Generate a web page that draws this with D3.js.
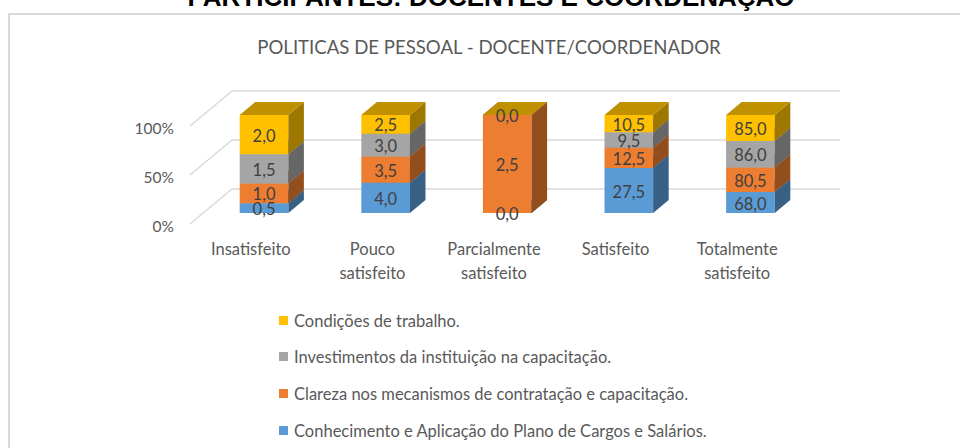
<!DOCTYPE html>
<html>
<head>
<meta charset="utf-8">
<script src="https://cdn.jsdelivr.net/npm/d3@7"></script>
<style>
  body { margin: 0; background: #fff; }
  svg { display: block; }
</style>
</head>
<body>
<svg id="chart" width="960" height="448"></svg>
<script>

// data
var categories = ["Insatisfeito", "Pouco satisfeito", "Parcialmente satisfeito", "Satisfeito", "Totalmente satisfeito"];
var categoryLines = [["Insatisfeito"], ["Pouco", "satisfeito"], ["Parcialmente", "satisfeito"], ["Satisfeito"], ["Totalmente", "satisfeito"]];

var seriesNames = [
  "Conhecimento e Aplicação do Plano de Cargos e Salários.",
  "Clareza nos mecanismos de contratação e capacitação.",
  "Investimentos da instituição na capacitação.",
  "Condições de trabalho."
];
var conhecimento = [0.5, 4.0, 0.0, 27.5, 68.0];
var clareza = [1.0, 3.5, 2.5, 12.5, 80.5];
var investimentos = [1.5, 3.0, 0.0, 9.5, 86.0];
var condicoes = [2.0, 2.5, 0.0, 10.5, 85.0];
var seriesValues = [conhecimento, clareza, investimentos, condicoes];

var yTicks = [0, 0.5, 1];
var yTickLabels = ["0%", "50%", "100%"];

var colors = ["#5B9BD5", "#ED7D31", "#A5A5A5", "#FFC000"];

var svg = d3.select("#chart");

// 3d oblique parameters
var DX = 42, DY = -35;
var t0 = 0.315, t1 = 0.685;

function P(xf, yf, t) {
  return [xf + t * DX, yf + t * DY];
}

var x = d3.scaleBand().domain(categories).range([190, 798]).paddingInner(0.6).paddingOuter(0.3);
var y = d3.scaleLinear().domain([0, 1]).range([224, 126]);

// outer frame
svg.append("rect")
  .attr("x", 9).attr("y", 14)
  .attr("width", 980).attr("height", 460)
  .attr("fill", "none")
  .attr("stroke", "#d9d9d9")
  .attr("stroke-width", 2);

// heading above the frame (cut off)
svg.append("text")
  .attr("x", 491).attr("y", 6)
  .attr("text-anchor", "middle")
  .attr("font-family", "Liberation Sans, Arial, sans-serif")
  .attr("font-weight", "bold")
  .attr("font-size", 26)
  .attr("fill", "#000")
  .text("PARTICIPANTES: DOCENTES E COORDENAÇÃO");

// chart title
svg.append("text")
  .attr("x", 489).attr("y", 54)
  .attr("text-anchor", "middle")
  .attr("font-family", "Lato, sans-serif")
  .attr("font-size", 18.6)
  .attr("fill", "#595959")
  .text("POLITICAS DE PESSOAL - DOCENTE/COORDENADOR");

// gridlines
var x0 = x.range()[0], x1 = x.range()[1];
var line = d3.line();
yTicks.forEach(function (v) {
  var yy = y(v);
  svg.append("path")
    .attr("d", line([P(x0, yy, 0), P(x0, yy, 1), P(x1, yy, 1)]))
    .attr("fill", "none")
    .attr("stroke", "#d9d9d9")
    .attr("stroke-width", 1.5);
});

// y tick labels
yTicks.forEach(function (v, i) {
  svg.append("text")
    .attr("x", 174).attr("y", y(v) + 2)
    .attr("text-anchor", "end")
    .attr("dominant-baseline", "central")
    .attr("font-family", "Lato, sans-serif")
    .attr("font-size", 15.5)
    .attr("fill", "#595959")
    .text(yTickLabels[i]);
});

// stacked (100%) data
var stacked = categories.map(function (c, i) {
  var total = d3.sum(seriesValues, function (s) { return s[i]; });
  var acc = 0;
  return seriesValues.map(function (s, k) {
    var lo = acc / total;
    acc += s[i];
    return { cat: c, k: k, value: s[i], lo: lo, hi: acc / total };
  });
});

function shade(c, f) {
  var rgb = d3.rgb(c);
  return d3.rgb(rgb.r * f, rgb.g * f, rgb.b * f).formatHex();
}

// bars
stacked.forEach(function (segs) {
  var g = svg.append("g");
  var xa = x(segs[0].cat), xb = xa + x.bandwidth();
  segs.forEach(function (d) {
    var ya = y(d.lo), yb = y(d.hi);
    // front
    g.append("path")
      .attr("d", line([P(xa, ya, t0), P(xb, ya, t0), P(xb, yb, t0), P(xa, yb, t0)]) + "Z")
      .attr("fill", colors[d.k]);
    // side
    g.append("path")
      .attr("d", line([P(xb, ya, t0), P(xb, ya, t1), P(xb, yb, t1), P(xb, yb, t0)]) + "Z")
      .attr("fill", shade(colors[d.k], 0.62));
    // top
    g.append("path")
      .attr("d", line([P(xa, yb, t0), P(xb, yb, t0), P(xb, yb, t1), P(xa, yb, t1)]) + "Z")
      .attr("fill", shade(colors[d.k], 0.75));
  });
  // labels (zero-height segments at the same spot share one label)
  var used = {};
  segs.forEach(function (d) {
    var c = P(xa + x.bandwidth() / 2, (y(d.lo) + y(d.hi)) / 2, t0);
    var key = Math.round(c[1]);
    if (used[key]) return;
    used[key] = true;
    g.append("text")
      .attr("x", c[0]).attr("y", c[1] + 1)
      .attr("text-anchor", "middle")
      .attr("dominant-baseline", "central")
      .attr("font-family", "Lato, sans-serif")
      .attr("font-size", 16.5)
      .attr("fill", "#404040")
      .text(d3.format(".1f")(d.value).replace(".", ","));
  });
});

// category labels
categories.forEach(function (c, i) {
  var t = svg.append("text")
    .attr("text-anchor", "middle")
    .attr("font-family", "Lato, sans-serif")
    .attr("font-size", 16.5)
    .attr("fill", "#595959");
  categoryLines[i].forEach(function (s, j) {
    t.append("tspan")
      .attr("x", x(c) + x.bandwidth() / 2)
      .attr("y", 255 + j * 24)
      .text(s);
  });
});

// legend (reverse order)
var legendY = [321, 357, 394, 431];
[3, 2, 1, 0].forEach(function (k, i) {
  svg.append("rect")
    .attr("x", 279).attr("y", legendY[i] - 5)
    .attr("width", 9).attr("height", 9)
    .attr("fill", colors[k]);
  svg.append("text")
    .attr("x", 294).attr("y", legendY[i])
    .attr("dominant-baseline", "central")
    .attr("font-family", "Lato, sans-serif")
    .attr("font-size", 16.5)
    .attr("fill", "#595959")
    .text(seriesNames[k]);
});

</script>
</body>
</html>
